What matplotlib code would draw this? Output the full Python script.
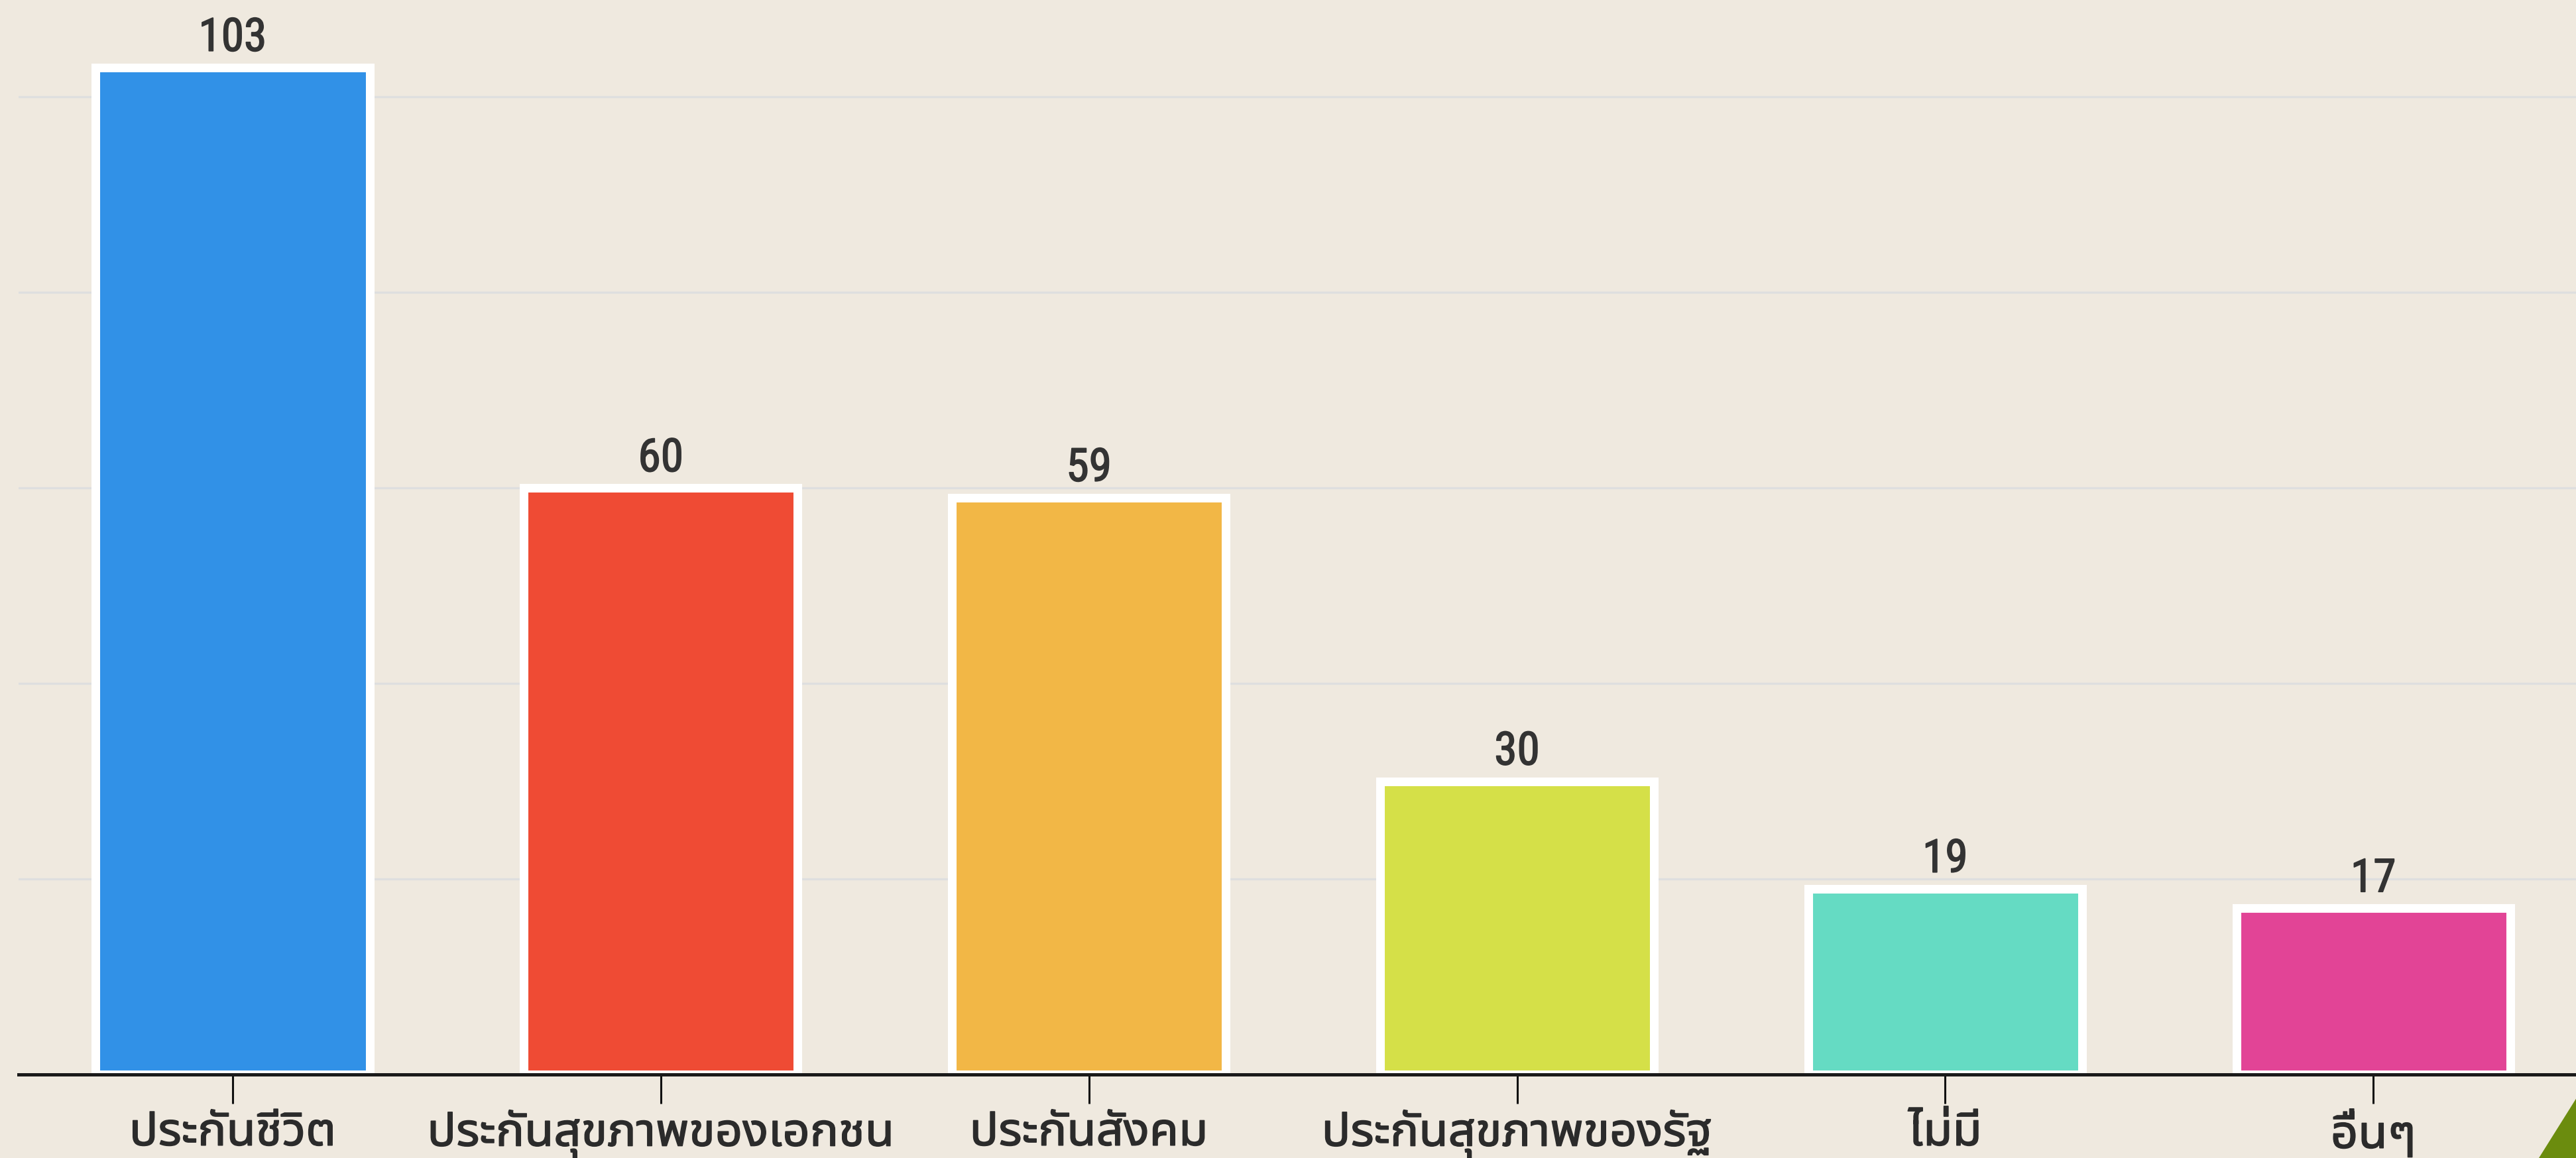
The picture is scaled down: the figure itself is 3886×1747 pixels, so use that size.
import matplotlib
matplotlib.use("Agg")
import matplotlib.pyplot as plt
from matplotlib.patches import Polygon
import matplotlib.patheffects as pe

categories = ["ประกันชีวิต", "ประกันสุขภาพของเอกชน", "ประกันสังคม",
              "ประกันสุขภาพของรัฐ", "ไม่มี", "อื่นๆ"]
values = [103, 60, 59, 30, 19, 17]
colors = ["#3191e7", "#ef4b34", "#f2b746", "#d5e048", "#65dbc3", "#e24496"]
grid_ticks = [20, 40, 60, 80, 100]

BG = "#efe9df"
W, H, DPI = 3887, 1747, 100
fig = plt.figure(figsize=(W / DPI, H / DPI), dpi=DPI, facecolor=BG)

base_px = 1621
ymax = base_px / 14.75
ax = fig.add_axes([28 / W, (H - base_px) / H, 1 - 28 / W, base_px / H])
ax.set_facecolor(BG)

x = list(range(len(categories)))
ax.bar(x, values, width=0.64, color=colors, edgecolor="white",
       linewidth=9.4, zorder=2)

for xi, v in zip(x, values):
    ax.annotate(str(v), (xi, v), xytext=(0, 18), textcoords="offset points",
                ha="center", va="baseline", fontsize=50, color="#333333",
                fontweight="normal",
                family=["Roboto Condensed", "DejaVu Sans"], annotation_clip=False,
                path_effects=[pe.withStroke(linewidth=1.2, foreground="#333333")])

ax.set_xlim(-0.5, 5.475)
ax.set_ylim(0, ymax)
ax.set_yticks(grid_ticks)
ax.yaxis.grid(True, color="#dedfdf", linewidth=2.4, zorder=0)
ax.set_axisbelow(True)
ax.tick_params(axis="y", length=0, labelleft=False)

ax.set_xticks(x)
ax.set_xticklabels(categories, fontsize=52, color="#2b2b2b",
                   family=["Roboto Condensed", "Noto Sans Thai UI", "Noto Sans Thai", "DejaVu Sans"])
for lab in ax.get_xticklabels():
    lab.set_path_effects([pe.withStroke(linewidth=1.1, foreground="#2b2b2b")])
ax.tick_params(axis="x", length=32, width=2.2, color="#111111", pad=6)

for s in ["top", "right", "left"]:
    ax.spines[s].set_visible(False)
ax.spines["bottom"].set_color("#1a1a1a")
ax.spines["bottom"].set_linewidth(3.6)
ax.spines["bottom"].set_zorder(3)

tri = Polygon([(1.0, 1 - 1656 / H), (3830 / W, 0.0), (1.0, 0.0)],
              closed=True, transform=fig.transFigure, facecolor="#6b8c0e",
              edgecolor="none")
fig.patches.append(tri)

fig.savefig("out.png", dpi=DPI, facecolor=BG)
